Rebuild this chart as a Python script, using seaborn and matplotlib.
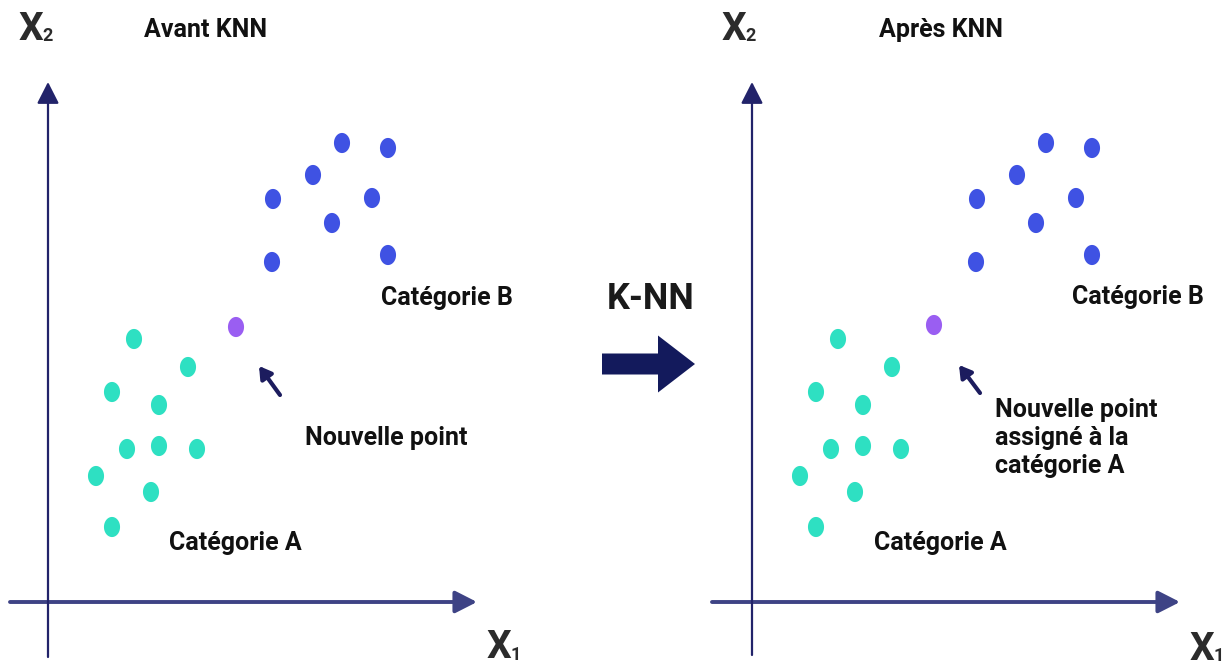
import numpy as np
import pandas as pd
import matplotlib
matplotlib.use("Agg")
import matplotlib.pyplot as plt
from matplotlib.path import Path
from matplotlib.patches import FancyArrow
import seaborn as sns

sns.set_theme(style="white")
plt.rcParams['font.family'] = ['Roboto', 'DejaVu Sans']

# ---------------- data (axis units, origin at the crossing of the axes) -------------
cat_a_x = [86, 140, 64, 111, 79, 111, 149, 48, 103, 64]
cat_a_y = [263, 235, 210, 197, 153, 156, 153, 126, 110, 75]
cat_b_x = [294, 340, 265, 225, 324, 284, 224, 340]
cat_b_y = [459, 454, 427, 403, 404, 379, 340, 347]
new_before = (188, 275)
new_after = (182, 277)

categories = ["Catégorie A", "Catégorie B", "Nouveau"]
palette = {"Catégorie A": "#2ee0c2", "Catégorie B": "#3f52e3", "Nouveau": "#9a5ef2"}

titles = ["Avant KNN", "Après KNN"]
new_labels = ["Nouvelle point", "Nouvelle point\nassigné à la\ncatégorie A"]

W, H = 1228, 666
fig = plt.figure(figsize=(W / 100, H / 100), dpi=100)

# ellipse marker (taller than wide)
t = np.linspace(0, 2 * np.pi, 60)
ell = Path(np.column_stack([0.8 * np.cos(t), np.sin(t)]), closed=True)

NAVY = "#1c1c5e"
FS = 18


def axis_label(ax, pos, main, sub):
    txt = ax.text(*pos, main, fontsize=28, ha="center", va="center",
                  fontweight="bold", color="#2b2b2b")
    ax.annotate(sub, xy=(0.97, 0.08), xycoords=txt, ha="left", va="bottom",
                fontsize=13, fontweight="bold", color="#2b2b2b")


def panel(px_left, px_right, origin_px, new_pt, title, new_label, cfg):
    ox, oy = origin_px
    ax = fig.add_axes([px_left / W, 0, (px_right - px_left) / W, 1])
    ax.set_xlim(px_left - ox, px_right - ox)
    ax.set_ylim(oy - H, oy)
    ax.axis("off")
    ax.patch.set_alpha(0)

    df = pd.DataFrame({
        "x": cat_a_x + cat_b_x + [new_pt[0]],
        "y": cat_a_y + cat_b_y + [new_pt[1]],
        "cat": ["Catégorie A"] * len(cat_a_x) + ["Catégorie B"] * len(cat_b_x) + ["Nouveau"],
    })
    sns.scatterplot(data=df, x="x", y="y", hue="cat", palette=palette, marker=ell,
                    s=210, linewidth=0, legend=False, ax=ax, zorder=3)

    # axes arrows
    ax.annotate("", xy=(cfg["xtip"], 0), xytext=(cfg["xstart"], 0),
                arrowprops=dict(arrowstyle="-|>,head_length=0.55,head_width=0.28",
                                color="#3e4385", lw=2.8, mutation_scale=24,
                                shrinkA=0, shrinkB=0), zorder=2)
    ax.annotate("", xy=(0, cfg["ytip"]), xytext=(0, cfg["ystart"]),
                arrowprops=dict(arrowstyle="-|>,head_length=0.55,head_width=0.28",
                                color="#22236a", lw=1.6, mutation_scale=24,
                                shrinkA=0, shrinkB=0), zorder=2)

    # pointer arrow to the new point
    ax.annotate("", xy=cfg["ptr_head"], xytext=cfg["ptr_tail"],
                arrowprops=dict(arrowstyle="-|>,head_length=0.5,head_width=0.3",
                                color=NAVY, lw=3, mutation_scale=14,
                                shrinkA=0, shrinkB=0), zorder=2)

    bold = dict(fontweight="bold", color="#111111")
    ax.text(*cfg["title"], title, fontsize=FS, ha="center", va="center", **bold)
    axis_label(ax, cfg["x2"], "X", "2")
    axis_label(ax, cfg["x1"], "X", "1")
    ax.text(*cfg["catB"], "Catégorie B", fontsize=FS, ha="center", va="center", **bold)
    ax.text(*cfg["catA"], "Catégorie A", fontsize=FS, ha="center", va="center", **bold)
    ax.text(*cfg["new"], new_label, fontsize=FS, ha=cfg["new_ha"], va="center",
            linespacing=1.2, **bold)
    return ax


panel(0, 614, (48, 602), new_before, titles[0], new_labels[0], dict(
    xtip=429, xstart=-38, ytip=520, ystart=-55,
    ptr_head=(211, 236), ptr_tail=(232, 207),
    title=(158, 572), x2=(-17, 573), x1=(451, -46),
    catB=(399, 304), catA=(187, 59), new=(338, 164), new_ha="center"))

panel(614, 1228, (752, 602), new_after, titles[1], new_labels[1], dict(
    xtip=428, xstart=-40, ytip=520, ystart=-53,
    ptr_head=(207, 237), ptr_tail=(228, 209),
    title=(189, 572), x2=(-18, 573), x1=(450, -47),
    catB=(386, 305), catA=(188, 59), new=(243, 164), new_ha="left"))

# central K-NN arrow (figure pixel space)
ov = fig.add_axes([0, 0, 1, 1])
ov.set_xlim(0, W)
ov.set_ylim(H, 0)
ov.axis("off")
ov.patch.set_alpha(0)
ov.text(651, 299, "K-NN", fontsize=26, fontweight="bold", ha="center", va="center",
        color="#1a1a1a")
ov.add_patch(FancyArrow(602, 364, 93, 0, width=21, head_width=57, head_length=37,
                        length_includes_head=True, color="#131a5c", lw=0))

fig.savefig("out.png", dpi=100, facecolor="white")
